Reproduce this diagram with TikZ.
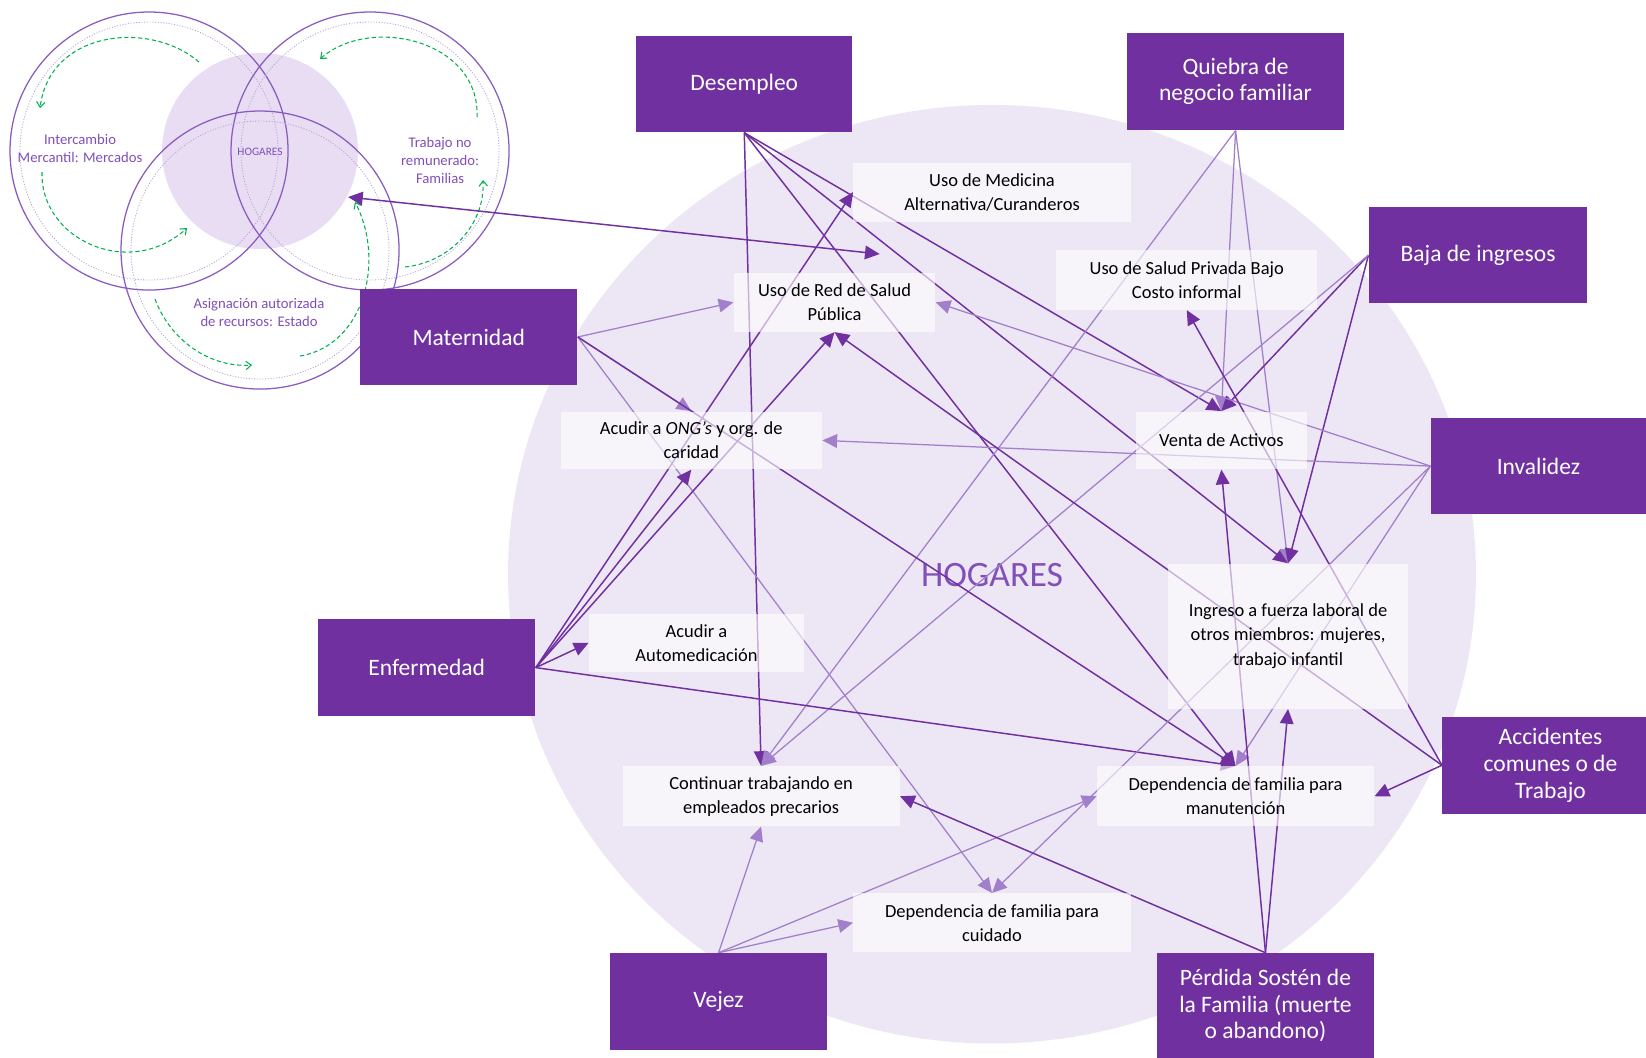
\documentclass[tikz,border=0pt]{standalone}
\usepackage{fontspec}
\setmainfont{Carlito}
\usetikzlibrary{arrows.meta}
\pgfdeclarelayer{back}
\pgfdeclarelayer{lines}
\pgfsetlayers{back,lines,main}
\definecolor{vio}{HTML}{7030A0}
\definecolor{vlight}{HTML}{A27FCB}
\definecolor{lav}{HTML}{EDE6F4}
\definecolor{lav2}{HTML}{E8DDF2}
\definecolor{vtext}{HTML}{8050B8}
\definecolor{vcirc}{HTML}{8A5CC0}
\definecolor{vdot}{HTML}{B9A0D6}
\definecolor{grn}{HTML}{00B050}
\begin{document}
\begin{tikzpicture}[x=0.5pt,y=-0.5pt,
  risk/.style={draw=none, fill=vio, text=white, inner sep=0pt, align=center,
    font=\fontsize{11.2}{12.7}\selectfont},
  resp/.style={draw=none, fill=white, fill opacity=0.62, text opacity=1, text=black,
    inner sep=0pt, align=center, font=\fontsize{8.8}{11.5}\selectfont},
  dkline/.style={draw=vio, line width=0.7pt, -{Triangle[length=7pt,width=6.5pt]}},
  ltline/.style={draw=vlight, line width=0.6pt, -{Triangle[length=7pt,width=6.5pt]}},
  vc/.style={draw=vcirc, line width=0.6pt},
  vd/.style={draw=vdot, line width=0.4pt, dash pattern=on 0.5pt off 0.8pt},
  garc/.style={draw=grn, line width=0.5pt, dash pattern=on 2pt off 1.3pt,
    -{Straight Barb[length=2.5pt,width=4pt]}},
  vlabel/.style={text=vtext, align=center, inner sep=0pt, font=\fontsize{7}{8.6}\selectfont},
]
\useasboundingbox (0,0) rectangle (1568,1007);

% ---------- background ----------
\begin{pgfonlayer}{back}
\fill[white] (0,0) rectangle (1568,1007);
\fill[lav] (945,547) ellipse [x radius=461, y radius=447];
\node[text=vtext, inner sep=0pt, font=\fontsize{17}{20}\selectfont] (hog) at (945,548) {HOGARES};

% Venn diagram (drawn in full-size pixel coordinates)
\begin{scope}[scale=0.9527]
  \fill[lav2] (260,151) circle[radius=98];
  \draw[vc] (149,151) circle[radius=139];
  \draw[vd] (149,151) circle[radius=129];
  \draw[vc] (370,151) circle[radius=139];
  \draw[vd] (370,151) circle[radius=129];
  \draw[vc] (260,250) circle[radius=139];
  \draw[vd] (260,250) circle[radius=129];
  \node[text=vtext, inner sep=0pt, font=\fontsize{5.4}{6}\selectfont] (vhog) at (260,152) {HOGARES};
  \node[vlabel] (vmer) at (80,148) {Intercambio\\Mercantil: Mercados};
  \node[vlabel] (vfam) at (440,160) {Trabajo no\\remunerado:\\Familias};
  \node[vlabel] (vest) at (259,312) {Asignación autorizada\\de recursos: Estado};
  \draw[garc] (199,62) .. controls (150,20) and (50,30) .. (40,108);
  \draw[garc] (42,172) .. controls (40,240) and (130,280) .. (187,228);
  \draw[garc] (477,117) .. controls (480,40) and (370,15) .. (320,59);
  \draw[garc] (405,267) .. controls (450,262) and (485,225) .. (483,180);
  \draw[garc] (155,299) .. controls (170,340) and (210,368) .. (252,365);
  \draw[garc] (300,356) .. controls (365,345) and (385,260) .. (355,202);
  \coordinate (vennpt) at (348,197);
\end{scope}
\coordinate (hogpt) at (838,242);
\end{pgfonlayer}

% ---------- risk boxes ----------
\node[risk, minimum width=103pt, minimum height=46pt] (des) at (709,80) {Desempleo};
\node[risk, minimum width=103pt, minimum height=46.5pt] (qui) at (1177,77.5) {Quiebra de\\negocio familiar};
\node[risk, minimum width=104pt, minimum height=46pt] (baj) at (1408,243) {Baja de ingresos};
\node[risk, minimum width=103.5pt, minimum height=46pt] (mat) at (446.5,321) {Maternidad};
\node[risk, minimum width=102.5pt, minimum height=46pt] (inv) at (1465.5,444) {Invalidez};
\node[risk, minimum width=103.5pt, minimum height=46pt] (enf) at (406.5,636) {Enfermedad};
\node[risk, minimum width=103pt, minimum height=46pt] (acc) at (1477,729) {Accidentes\\comunes o de\\Trabajo};
\node[risk, minimum width=103.5pt, minimum height=46pt] (vej) at (684.5,954) {Vejez};
\node[risk, minimum width=103.5pt, minimum height=50pt] (per) at (1205.5,958) {Pérdida Sostén de\\la Familia (muerte\\o abandono)};

% ---------- response boxes ----------
\node[resp, minimum width=132pt, minimum height=28pt] (med) at (945,183) {Uso de Medicina\\Alternativa/Curanderos};
\node[resp, minimum width=96pt, minimum height=28pt] (red) at (795,288) {Uso de Red de Salud\\Pública};
\node[resp, minimum width=124.5pt, minimum height=28.5pt] (priv) at (1130.5,266.5) {Uso de Salud Privada Bajo\\Costo informal};
\node[resp, minimum width=124.5pt, minimum height=27.5pt] (ong) at (658.5,419.5) {Acudir a \textit{ONG’s} y org. de\\caridad};
\node[resp, minimum width=81.5pt, minimum height=27.5pt] (venta) at (1163.5,419.5) {Venta de Activos};
\node[resp, minimum width=114pt, minimum height=69pt] (ing) at (1227,606) {Ingreso a fuerza laboral de\\otros miembros: mujeres,\\trabajo infantil};
\node[resp, minimum width=102.5pt, minimum height=27.5pt] (auto) at (663.5,612.5) {Acudir a\\Automedicación};
\node[resp, minimum width=132pt, minimum height=28.5pt] (cont) at (725,758.5) {Continuar trabajando en\\empleados precarios};
\node[resp, minimum width=132pt, minimum height=28.5pt] (manut) at (1177,758.5) {Dependencia de familia para\\manutención};
\node[resp, minimum width=132pt, minimum height=28pt] (cuid) at (945,879) {Dependencia de familia para\\cuidado};

% ---------- connectors ----------
\begin{pgfonlayer}{lines}
\draw[dkline] (des.south) -- (cont.north);
\draw[dkline] (des.south) -- (venta.north);
\draw[dkline] (des.south) -- (ing.north);
\draw[dkline] (des.south) -- (manut.north);
\draw[ltline] (qui.south) -- (venta.north);
\draw[ltline] (qui.south) -- (ing.north);
\draw[ltline] (qui.south) -- (cont.north);
\draw[dkline] (baj.west) -- (venta.north);
\draw[dkline] (baj.west) -- (ing.north);
\draw[ltline] (baj.west) -- (cont.north);
\draw[ltline] (mat.east) -- (red.west);
\draw[ltline] (mat.east) -- (ong.north);
\draw[ltline] (mat.east) -- (cuid.north);
\draw[dkline] (mat.east) -- (manut.north);
\draw[dkline] (enf.east) -- (auto.west);
\draw[dkline] (enf.east) -- (ong.south);
\draw[dkline] (enf.east) -- (red.south);
\draw[dkline] (enf.east) -- (med.west);
\draw[dkline] (enf.east) -- (manut.north);
\draw[ltline] (inv.west) -- (ong.east);
\draw[ltline] (inv.west) -- (red.east);
\draw[ltline] (inv.west) -- (manut.north);
\draw[ltline] (inv.west) -- (cuid.north);
\draw[dkline] (acc.west) -- (manut.east);
\draw[dkline] (acc.west) -- (priv.south);
\draw[dkline] (acc.west) -- (red.south);
\draw[ltline] (vej.north) -- (cont.south);
\draw[ltline] (vej.north) -- (cuid.west);
\draw[ltline] (vej.north) -- (manut.west);
\draw[dkline] (per.north) -- (cont.east);
\draw[dkline] (per.north) -- (ing.south);
\draw[dkline] (per.north) -- (venta.south);
\draw[dkline, {Triangle[length=7pt,width=6.5pt]}-{Triangle[length=7pt,width=6.5pt]}] (vennpt) -- (hogpt);
\end{pgfonlayer}
\end{tikzpicture}
\end{document}
